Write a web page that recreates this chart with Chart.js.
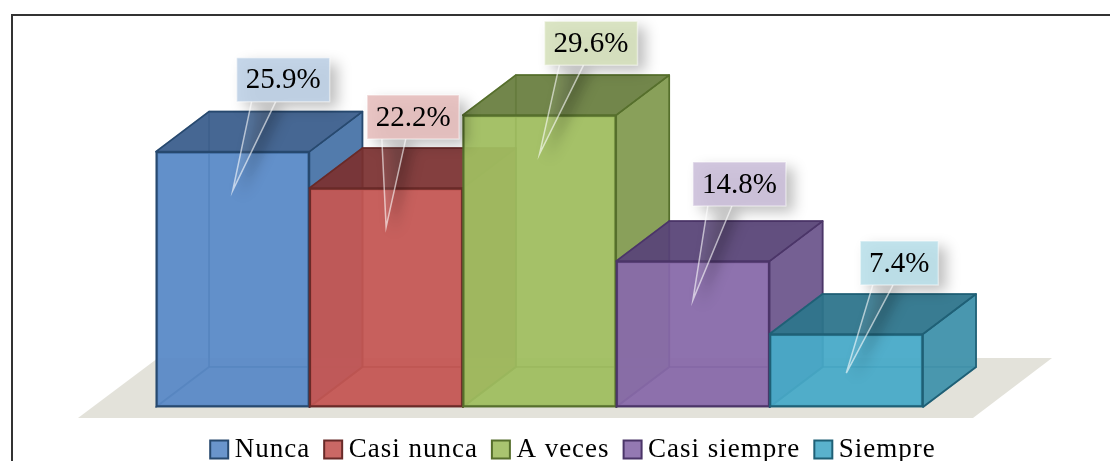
<!DOCTYPE html>
<html>
<head>
<meta charset="utf-8">
<title>Chart</title>
<script src="https://cdn.jsdelivr.net/npm/chart.js@4"></script>
<style>
	body{margin:0;background:#fff;}
	canvas{display:block;}
</style>
</head>
<body>
<canvas id="chart3d" width="1110" height="461"></canvas>
<script>
var categories = ["Nunca", "Casi nunca", "A veces", "Casi siempre", "Siempre"];
var percentages = [25.9, 22.2, 29.6, 14.8, 7.4];

var frontColors = ["rgba(90,138,198,.9)", "rgba(196,88,84,.9)", "rgba(160,190,96,.9)", "rgba(136,106,170,.9)", "rgba(72,170,200,.9)"];
var topColors = ["rgba(62,96,140,.92)", "rgba(118,48,48,.88)", "rgba(100,122,60,.88)", "rgba(88,68,118,.9)", "rgba(46,114,136,.9)"];
var sideColors = ["rgba(76,118,168,.94)", "rgba(150,66,64,.92)", "rgba(132,156,84,.94)", "rgba(112,90,142,.94)", "rgba(66,146,170,.92)"];
var edgeColors = ["#27496f", "#692a28", "#566f2c", "#4b3568", "#1f6076"];
var boxColors = ["rgba(190,208,230,.9)", "rgba(230,190,188,.9)", "rgba(214,225,188,.9)", "rgba(204,192,218,.9)", "rgba(186,224,234,.9)"];

// depth of the boxes and of the floor, in pixels
var depthX = 53, depthY = -40;
var labelDx = [4, -19, 5, 0, 14];
var labelDy = [-94, -93, -94, -99, -93];
var labelW = [93, 92, 93, 93, 78];

function box(m){
	var w = m.width;
	return {l: m.x - w/2, r: m.x + w/2, t: m.y, b: m.base};
}

function poly(ctx, pts, fill, stroke, lw){
	ctx.beginPath();
	ctx.moveTo(pts[0][0], pts[0][1]);
	for(var i=1;i<pts.length;i++){ ctx.lineTo(pts[i][0], pts[i][1]); }
	ctx.closePath();
	if(fill){ ctx.fillStyle = fill; ctx.fill(); }
	if(stroke){ ctx.strokeStyle = stroke; ctx.lineWidth = lw || 1.7; ctx.lineJoin = "round"; ctx.stroke(); }
}

var scene3d = {
	id: "scene3d",
	beforeLayout: function(chart){
		chart.ctx.letterSpacing = "1px"; // legend text is spaced wide in the original
	},
	afterLayout: function(chart){
		var lg = chart.legend;
		lg.top += 8; lg.bottom += 8;
	},
	beforeDatasetsDraw: function(chart){
		var ctx = chart.ctx, a = chart.chartArea;
		// frame, only top and left are there
		ctx.save();
		ctx.strokeStyle = "#333";
		ctx.lineWidth = 2;
		ctx.beginPath();
		ctx.moveTo(12, 461); ctx.lineTo(12, 15); ctx.lineTo(1110, 15);
		ctx.stroke();
		// floor
		poly(ctx, [[a.left-78, a.bottom+11], [a.right+50, a.bottom+11], [a.right+129, a.bottom-49], [a.left+2, a.bottom-49]], "#e3e2da");
		ctx.restore();
	},
	beforeDatasetDraw: function(chart, args){
		var i = args.index, ctx = chart.ctx, b = box(args.meta.data[i]);
		var dx = depthX, dy = depthY, c = frontColors[i], e = edgeColors[i];
		ctx.save();
		ctx.globalAlpha = .55;
		poly(ctx, [[b.l+dx,b.t+dy],[b.r+dx,b.t+dy],[b.r+dx,b.b+dy],[b.l+dx,b.b+dy]], c, e);
		poly(ctx, [[b.l,b.t],[b.l+dx,b.t+dy],[b.l+dx,b.b+dy],[b.l,b.b]], c, e);
		poly(ctx, [[b.l,b.b],[b.l+dx,b.b+dy],[b.r+dx,b.b+dy],[b.r,b.b]], c, e);
		ctx.restore();
	},
	afterDatasetDraw: function(chart, args){
		var i = args.index, ctx = chart.ctx, b = box(args.meta.data[i]);
		var dx = depthX, dy = depthY, e = edgeColors[i];
		ctx.save();
		poly(ctx, [[b.r,b.t],[b.r+dx,b.t+dy],[b.r+dx,b.b+dy],[b.r,b.b]], sideColors[i], e);
		poly(ctx, [[b.l,b.t],[b.l+dx,b.t+dy],[b.r+dx,b.t+dy],[b.r,b.t]], topColors[i], e);
		ctx.restore();
	},
	afterDatasetsDraw: function(chart){
		var ctx = chart.ctx;
		for(var i=0;i<percentages.length;i++){
			var m = chart.getDatasetMeta(i).data[i];
			var x = m.x + labelDx[i], y = m.y + labelDy[i], w = labelW[i], h = 44;
			var tip = [m.x, m.y + 39];
			var outline = [[x,y],[x+w,y],[x+w,y+h],[x+w*.42,y+h],tip,[x+w*.16,y+h],[x,y+h]];
			var tail = [[x+w*.16,y+h],tip,[x+w*.42,y+h]];

			// shadow only: the shape itself is pushed off the canvas
			ctx.save();
			ctx.shadowColor = "rgba(0,0,0,.25)";
			ctx.shadowBlur = 14;
			ctx.shadowOffsetX = 2000 + 8;
			ctx.shadowOffsetY = 6;
			ctx.translate(-2000, 0);
			poly(ctx, outline, "#000");
			ctx.restore();

			ctx.save();
			poly(ctx, tail, "rgba(255,255,255,.08)");
			ctx.beginPath();
			ctx.moveTo(tail[0][0], tail[0][1]); ctx.lineTo(tip[0], tip[1]); ctx.lineTo(tail[2][0], tail[2][1]);
			ctx.strokeStyle = "rgba(255,255,255,.6)";
			ctx.lineWidth = 1.5;
			ctx.stroke();
			poly(ctx, [[x,y],[x+w,y],[x+w,y+h],[x,y+h]], boxColors[i], "rgba(255,255,255,.45)", 1.5);

			ctx.fillStyle = "#000";
			ctx.letterSpacing = "0px";
			ctx.font = "29px 'Liberation Serif'";
			ctx.textAlign = "center";
			ctx.textBaseline = "middle";
			ctx.fillText(percentages[i].toFixed(1) + "%", x + w/2, y + h/2 + 1);
			ctx.restore();
		}
	}
};

var datasets = [];
for(var n=0;n<categories.length;n++){
	var row = [null, null, null, null, null];
	row[n] = percentages[n];
	datasets.push({
		label: categories[n],
		data: row,
		grouped: false,
		backgroundColor: frontColors[n],
		borderColor: edgeColors[n],
		borderWidth: 2,
		borderSkipped: false,
		clip: false,
		order: categories.length - n // first box is painted first, next one goes over it
	});
}

new Chart(document.getElementById("chart3d"), {
	type: "bar",
	data: { labels: categories, datasets: datasets },
	plugins: [scene3d],
	options: {
		responsive: false,
		animation: false,
		layout: { padding: { left: 43, right: 0, top: 12.6, bottom: 0 } },
		datasets: { bar: { barPercentage: 1, categoryPercentage: 1 } },
		scales: {
			x: { display: false },
			y: {
				min: 0, max: 40,
				ticks: { display: false }, grid: { display: false }, border: { display: false },
				afterFit: function(s){ s.width = 113; }
			},
			// empty axis, only keeps room at the right of the boxes
			yr: {
				position: "right",
				ticks: { display: false }, grid: { display: false }, border: { display: false },
				afterFit: function(s){ s.width = 187; }
			}
		},
		plugins: {
			tooltip: { enabled: false },
			legend: {
				position: "bottom",
				onClick: null,
				maxHeight: 54,
				labels: {
					usePointStyle: true,
					pointStyle: "rect",
					boxWidth: 4,
					boxHeight: 18,
					padding: 21,
					color: "#000",
					font: { family: "'Liberation Serif'", size: 27 },
					sort: function(a, b){ return a.datasetIndex - b.datasetIndex; }
				}
			}
		}
	}
});
</script>
</body>
</html>
